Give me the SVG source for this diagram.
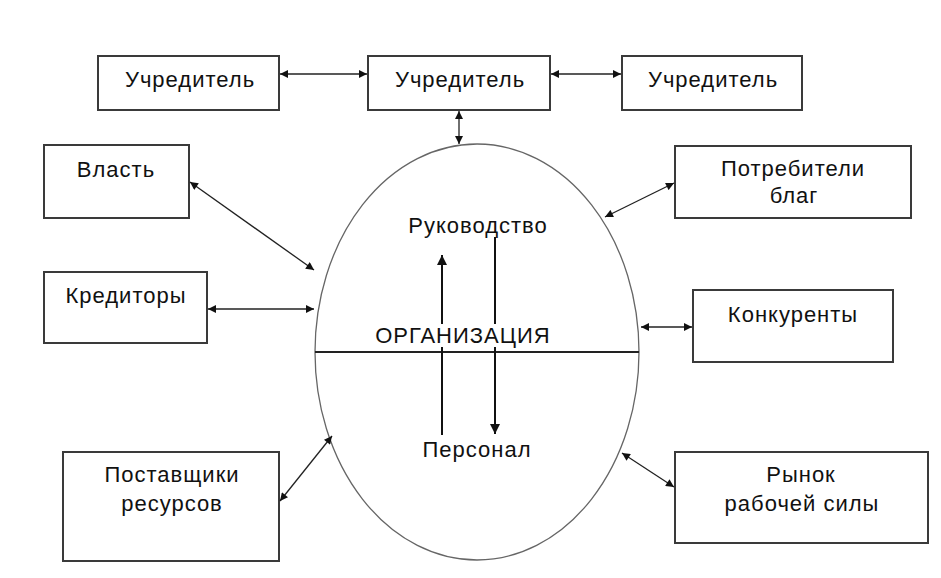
<svg xmlns="http://www.w3.org/2000/svg" width="941" height="578" viewBox="0 0 941 578">
<defs>
<style>
.box{fill:#fff;stroke:#3a3a3a;stroke-width:2}
.t{font-family:"Liberation Sans",Arial,sans-serif;font-size:22px;letter-spacing:1px;fill:#111;text-anchor:middle}
.c{stroke:#222;stroke-width:1.3;fill:none}
.cv{stroke:#111;stroke-width:2;fill:none}
</style>
<marker id="ah" viewBox="0 0 10 10" refX="10" refY="5" markerWidth="9" markerHeight="8" markerUnits="userSpaceOnUse" orient="auto-start-reverse">
<path d="M0,0 L10,5 L0,10 z" fill="#111"/>
</marker>
<marker id="ah2" viewBox="0 0 10 10" refX="10" refY="5" markerWidth="12" markerHeight="10" markerUnits="userSpaceOnUse" orient="auto-start-reverse">
<path d="M0,0 L10,5 L0,10 z" fill="#111"/>
</marker>
</defs>
<rect width="941" height="578" fill="#fff"/>
<g id="org">
<ellipse cx="477" cy="352" rx="162" ry="208" fill="none" stroke="#666" stroke-width="1.3"/>
<line x1="315" y1="352" x2="639" y2="352" stroke="#222" stroke-width="2"/>
<text class="t" x="478" y="233">Руководство</text>
<text class="t" x="463" y="343">ОРГАНИЗАЦИЯ</text>
<text class="t" x="477" y="457">Персонал</text>
</g>
<g id="u1"><rect class="box" x="98" y="56" width="181" height="54"/><text class="t" x="190" y="87">Учредитель</text></g>
<g id="u2"><rect class="box" x="368" y="56" width="182" height="54"/><text class="t" x="460" y="87">Учредитель</text></g>
<g id="u3"><rect class="box" x="622" y="56" width="180" height="54"/><text class="t" x="713" y="87">Учредитель</text></g>
<g id="vlast"><rect class="box" x="44" y="145" width="145" height="73"/><text class="t" x="116" y="177">Власть</text></g>
<g id="kred"><rect class="box" x="44" y="272" width="163" height="71"/><text class="t" x="126" y="303">Кредиторы</text></g>
<g id="potr"><rect class="box" x="675" y="146" width="236" height="72"/><text class="t" x="793" y="176">Потребители</text><text class="t" x="794" y="203">благ</text></g>
<g id="konk"><rect class="box" x="693" y="290" width="200" height="72"/><text class="t" x="793" y="322">Конкуренты</text></g>
<g id="post"><rect class="box" x="63" y="452" width="216" height="109"/><text class="t" x="172" y="482">Поставщики</text><text class="t" x="172" y="511">ресурсов</text></g>
<g id="rynok"><rect class="box" x="675" y="452" width="253" height="91"/><text class="t" x="801" y="482">Рынок</text><text class="t" x="802" y="511">рабочей силы</text></g>
<g id="connectors">
<line class="c" x1="280" y1="74" x2="367" y2="74" marker-start="url(#ah)" marker-end="url(#ah)"/>
<line class="c" x1="551" y1="74" x2="621" y2="74" marker-start="url(#ah)" marker-end="url(#ah)"/>
<line class="c" x1="459" y1="111" x2="459" y2="144" marker-start="url(#ah)" marker-end="url(#ah)"/>
<line class="c" x1="190" y1="182" x2="314" y2="270" marker-start="url(#ah)" marker-end="url(#ah)"/>
<line class="c" x1="208" y1="309" x2="314" y2="309" marker-start="url(#ah)" marker-end="url(#ah)"/>
<line class="c" x1="674" y1="183" x2="605" y2="217" marker-start="url(#ah)" marker-end="url(#ah)"/>
<line class="c" x1="641" y1="327" x2="692" y2="327" marker-start="url(#ah)" marker-end="url(#ah)"/>
<line class="c" x1="280" y1="501" x2="332" y2="436" marker-start="url(#ah)" marker-end="url(#ah)"/>
<line class="c" x1="622" y1="453" x2="674" y2="487" marker-start="url(#ah)" marker-end="url(#ah)"/>
<line class="cv" x1="442" y1="435" x2="442" y2="347"/>
<line class="cv" x1="442" y1="324" x2="442" y2="255" marker-end="url(#ah2)"/>
<line class="cv" x1="495" y1="237" x2="495" y2="324"/>
<line class="cv" x1="495" y1="347" x2="495" y2="434" marker-end="url(#ah2)"/>
</g>
</svg>
